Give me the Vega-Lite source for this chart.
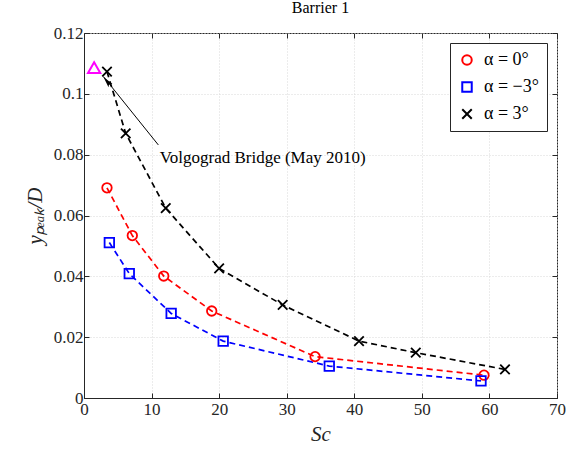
{
  "$schema": "https://vega.github.io/schema/vega-lite/v6.json",
  "width": 473,
  "height": 365,
  "autosize": "none",
  "padding": {"left": 84, "top": 33, "right": 11, "bottom": 54},
  "background": "white",
  "config": {
    "font": "Liberation Serif",
    "view": {"stroke": "#262626", "strokeWidth": 1},
    "axis": {
      "domainColor": "#262626",
      "tickColor": "#262626",
      "tickSize": -5,
      "labelFont": "Liberation Serif",
      "labelFontSize": 17,
      "labelColor": "#262626",
      "labelFlush": false,
      "titleFont": "Liberation Serif",
      "titleFontSize": 21,
      "titleFontStyle": "italic",
      "titleFontWeight": "normal",
      "titleColor": "#262626",
      "gridColor": "#d9d9d9",
      "gridDash": [1, 2],
      "gridWidth": 1
    }
  },
  "title": {
    "text": "Barrier 1",
    "font": "Liberation Serif",
    "fontSize": 16,
    "fontWeight": "normal",
    "color": "#000000",
    "offset": 8
  },
  "datasets": {
    "series": [
      {"alpha": "α = 0°", "Sc": 3.4, "y": 0.0691},
      {"alpha": "α = 0°", "Sc": 7.15, "y": 0.0534},
      {"alpha": "α = 0°", "Sc": 11.8, "y": 0.0401},
      {"alpha": "α = 0°", "Sc": 18.9, "y": 0.0286},
      {"alpha": "α = 0°", "Sc": 34.2, "y": 0.0136},
      {"alpha": "α = 0°", "Sc": 59.2, "y": 0.0075},
      {"alpha": "α = −3°", "Sc": 3.75, "y": 0.0511},
      {"alpha": "α = −3°", "Sc": 6.7, "y": 0.0409},
      {"alpha": "α = −3°", "Sc": 12.9, "y": 0.0278},
      {"alpha": "α = −3°", "Sc": 20.6, "y": 0.0187},
      {"alpha": "α = −3°", "Sc": 36.3, "y": 0.0105},
      {"alpha": "α = −3°", "Sc": 58.75, "y": 0.0056},
      {"alpha": "α = 3°", "Sc": 3.4, "y": 0.1073},
      {"alpha": "α = 3°", "Sc": 6.17, "y": 0.087},
      {"alpha": "α = 3°", "Sc": 12.1, "y": 0.0624},
      {"alpha": "α = 3°", "Sc": 20.0, "y": 0.0426},
      {"alpha": "α = 3°", "Sc": 29.4, "y": 0.0306},
      {"alpha": "α = 3°", "Sc": 40.7, "y": 0.0187},
      {"alpha": "α = 3°", "Sc": 49.1, "y": 0.0149},
      {"alpha": "α = 3°", "Sc": 62.3, "y": 0.0094}
    ],
    "bridge": [
      {"name": "Volgograd Bridge (May 2010)", "Sc": 1.5, "y": 0.1086}
    ],
    "arrow": [
      {"Sc": 11.0, "y": 0.0832, "Sc_tip": 2.86, "y_tip": 0.1057}
    ],
    "arrowhead": [
      {"Sc": 3.45, "y": 0.1040}
    ],
    "note": [
      {"text": "Volgograd Bridge (May 2010)", "Sc": 11.2, "y": 0.0789}
    ]
  },
  "resolve": {"axis": {"x": "independent", "y": "independent"}},
  "layer": [
    {
      "data": {"name": "series"},
      "mark": {"type": "line", "strokeDash": [6, 4], "strokeWidth": 1.7},
      "encoding": {
        "x": {
          "field": "Sc", "type": "quantitative",
          "scale": {"domain": [0, 70], "nice": false, "zero": false},
          "axis": {"orient": "bottom", "title": "Sc", "values": [0, 10, 20, 30, 40, 50, 60, 70], "titlePadding": 6, "labelPadding": 8}
        },
        "y": {
          "field": "y", "type": "quantitative",
          "scale": {"domain": [0, 0.12], "nice": false, "zero": false},
          "axis": {"orient": "left", "title": "yₚₑₐₖ/D", "values": [0, 0.02, 0.04, 0.06, 0.08, 0.1, 0.12], "labelExpr": "datum.value == 0 ? '0' : format(datum.value, '.2~f')", "titlePadding": 8, "labelPadding": 6}
        },
        "color": {
          "field": "alpha", "type": "nominal",
          "scale": {"domain": ["α = 0°", "α = −3°", "α = 3°"], "range": ["#ff0000", "#0000ff", "#000000"]},
          "legend": {
            "title": null,
            "orient": "top-right",
            "offset": 10,
            "fillColor": "white",
            "strokeColor": "#262626",
            "padding": 8,
            "labelFont": "Liberation Serif",
            "labelFontSize": 18,
            "labelColor": "#000000",
            "symbolStrokeWidth": 2,
            "symbolSize": 90,
            "rowPadding": 9,
            "labelOffset": 8
          }
        },
        "order": {"field": "Sc", "type": "quantitative"}
      }
    },
    {
      "data": {"name": "series"},
      "mark": {"type": "point", "filled": false, "strokeWidth": 1.8, "size": 90, "opacity": 1},
      "encoding": {
        "x": {
          "field": "Sc", "type": "quantitative",
          "axis": {"orient": "top", "labels": false, "title": null, "grid": false, "domain": false, "values": [0, 10, 20, 30, 40, 50, 60, 70]}
        },
        "y": {
          "field": "y", "type": "quantitative",
          "axis": {"orient": "right", "labels": false, "title": null, "grid": false, "domain": false, "values": [0, 0.02, 0.04, 0.06, 0.08, 0.1, 0.12]}
        },
        "color": {"field": "alpha", "type": "nominal"},
        "shape": {
          "field": "alpha", "type": "nominal",
          "scale": {"domain": ["α = 0°", "α = −3°", "α = 3°"], "range": ["circle", "square", "M-1,-1L1,1M-1,1L1,-1"]},
          "legend": {
            "title": null,
            "orient": "top-right",
            "offset": 10,
            "fillColor": "white",
            "strokeColor": "#262626",
            "padding": 8,
            "labelFont": "Liberation Serif",
            "labelFontSize": 18,
            "labelColor": "#000000",
            "symbolStrokeWidth": 2,
            "symbolSize": 90,
            "rowPadding": 9,
            "labelOffset": 8
          }
        }
      }
    },
    {
      "data": {"name": "arrow"},
      "mark": {"type": "rule", "color": "#000000", "strokeWidth": 1},
      "encoding": {
        "x": {"field": "Sc", "type": "quantitative", "axis": null},
        "y": {"field": "y", "type": "quantitative", "axis": null},
        "x2": {"field": "Sc_tip"},
        "y2": {"field": "y_tip"}
      }
    },
    {
      "data": {"name": "arrowhead"},
      "mark": {"type": "point", "shape": "M0,-1L0.4,0.8L0,0.45L-0.4,0.8Z", "filled": true, "color": "#000000", "size": 160, "angle": 321, "opacity": 1},
      "encoding": {
        "x": {"field": "Sc", "type": "quantitative", "axis": null},
        "y": {"field": "y", "type": "quantitative", "axis": null}
      }
    },
    {
      "data": {"name": "bridge"},
      "mark": {"type": "point", "shape": "triangle-up", "filled": false, "color": "#ff00ff", "strokeWidth": 2, "size": 150, "opacity": 1},
      "encoding": {
        "x": {"field": "Sc", "type": "quantitative", "axis": null},
        "y": {"field": "y", "type": "quantitative", "axis": null}
      }
    },
    {
      "data": {"name": "note"},
      "mark": {"type": "text", "align": "left", "baseline": "middle", "font": "Liberation Serif", "fontSize": 17, "color": "#000000"},
      "encoding": {
        "x": {"field": "Sc", "type": "quantitative", "axis": null},
        "y": {"field": "y", "type": "quantitative", "axis": null},
        "text": {"field": "text"}
      }
    }
  ]
}
